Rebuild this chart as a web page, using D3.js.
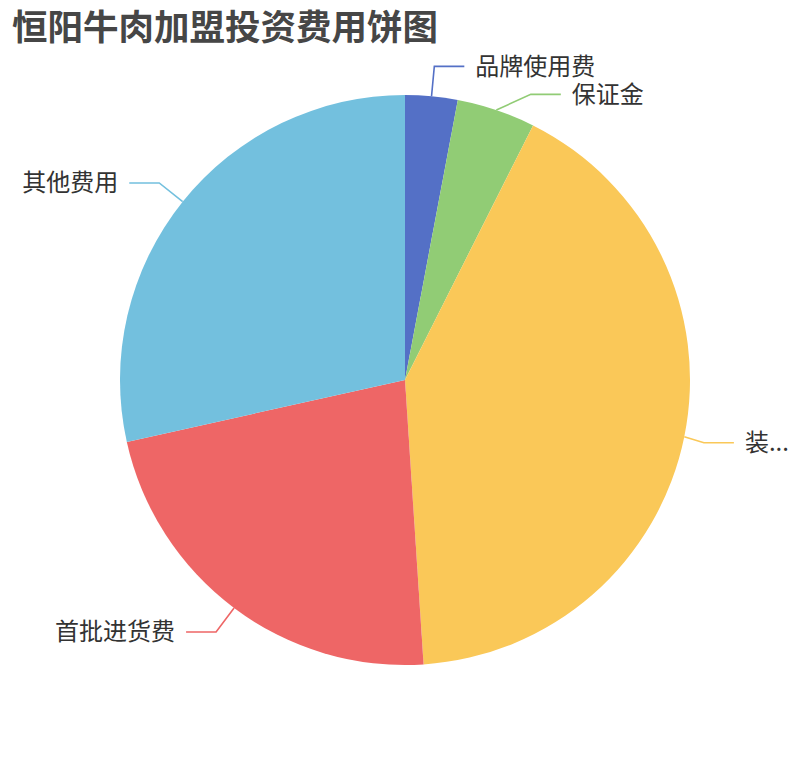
<!DOCTYPE html>
<html lang="zh">
<head>
<meta charset="utf-8">
<script src="https://d3js.org/d3.v7.min.js"></script>
<style>
  body { margin: 0; background: #fff; }
  text { font-family: "Noto Sans CJK SC", "Noto Sans", sans-serif; }
</style>
</head>
<body>
<svg width="810" height="760"></svg>
<script>
// data (万元)
var names = ["品牌使用费", "保证金", "装修费", "首批进货费", "其他费用"];
var values = [1, 1.5, 14, 7.6, 9.6];
var colors = ["#5470c6", "#91cc75", "#fac858", "#ee6666", "#73c0de"];

var svg = d3.select("svg"),
    width = +svg.attr("width"),
    height = +svg.attr("height");

var cx = 405, cy = 380, radius = 285,
    len1 = 30, len2 = 30, gap = 11, lineH = 28, fontSize = 24;

svg.append("text")
    .attr("x", 12).attr("y", 40)
    .attr("fill", "#464646")
    .style("font-size", "35.5px")
    .style("font-weight", "bold")
    .text("恒阳牛肉加盟投资费用饼图");

var data = names.map(function(n, i) { return { name: n, value: values[i], color: colors[i] }; });

var pie = d3.pie().sort(null).value(function(d) { return d.value; });
var arc = d3.arc().innerRadius(0).outerRadius(radius);

var g = svg.append("g").attr("transform", "translate(" + cx + "," + cy + ")");

var arcs = pie(data);

g.selectAll("path.slice")
  .data(arcs)
  .enter().append("path")
    .attr("class", "slice")
    .attr("d", arc)
    .attr("fill", function(d) { return d.data.color; });

// label layout: radial segment then horizontal one, labels pushed apart on each side
var labels = arcs.map(function(d) {
  var a = (d.startAngle + d.endAngle) / 2;
  var s = Math.sin(a), c = -Math.cos(a);
  return {
    d: d,
    right: s >= 0,
    p0: [radius * s, radius * c],
    p1: [(radius + len1) * s, (radius + len1) * c],
    y: (radius + len1) * c
  };
});

[true, false].forEach(function(side) {
  var list = labels.filter(function(l) { return l.right === side; })
    .sort(function(a, b) { return a.y - b.y; });
  for (var i = 1; i < list.length; i++) {
    if (list[i].y - list[i - 1].y < lineH) list[i].y = list[i - 1].y + lineH;
  }
});

labels.forEach(function(l) {
  var dir = l.right ? 1 : -1;
  var bend = [l.p1[0], l.y];
  if (l.y !== l.p1[1]) {
    // shifted label: put the bend back on the outer circle
    var rA = radius + len1;
    bend = [dir * Math.sqrt(Math.max(0, rA * rA - l.y * l.y)) - dir * 7, l.y];
  }
  var end = [bend[0] + dir * len2, l.y];
  var line = g.append("polyline")
    .attr("fill", "none")
    .attr("stroke", l.d.data.color)
    .attr("stroke-width", 1.6);

  var t = g.append("text")
    .attr("y", l.y)
    .attr("dy", "0.35em")
    .attr("text-anchor", l.right ? "start" : "end")
    .attr("fill", "#333")
    .style("font-size", fontSize + "px")
    .text(l.d.data.name);

  // labels that run past the chart edge: pull the line in a little, then truncate
  var edge = l.right ? (width - cx) : cx;
  var full = l.d.data.name;
  if (t.node().getComputedTextLength() > edge - (Math.abs(end[0]) + gap) - 4) {
    var pull = 10;
    var rIn = Math.hypot(bend[0], bend[1]) - pull;
    var a = Math.atan2(bend[1], bend[0]);
    bend = [rIn * Math.cos(a), l.y];
    end = [bend[0] + dir * len2, l.y];
    var avail = edge - (Math.abs(end[0]) + gap) - 4;
    var n = full.length;
    while (n > 1 && t.node().getComputedTextLength() > avail) {
      n--;
      t.text(full.slice(0, n) + "...");
    }
  }

  line.attr("points", [l.p0, bend, end].map(function(p) { return p.join(","); }).join(" "));
  t.attr("x", end[0] + dir * gap);
});
</script>
</body>
</html>
